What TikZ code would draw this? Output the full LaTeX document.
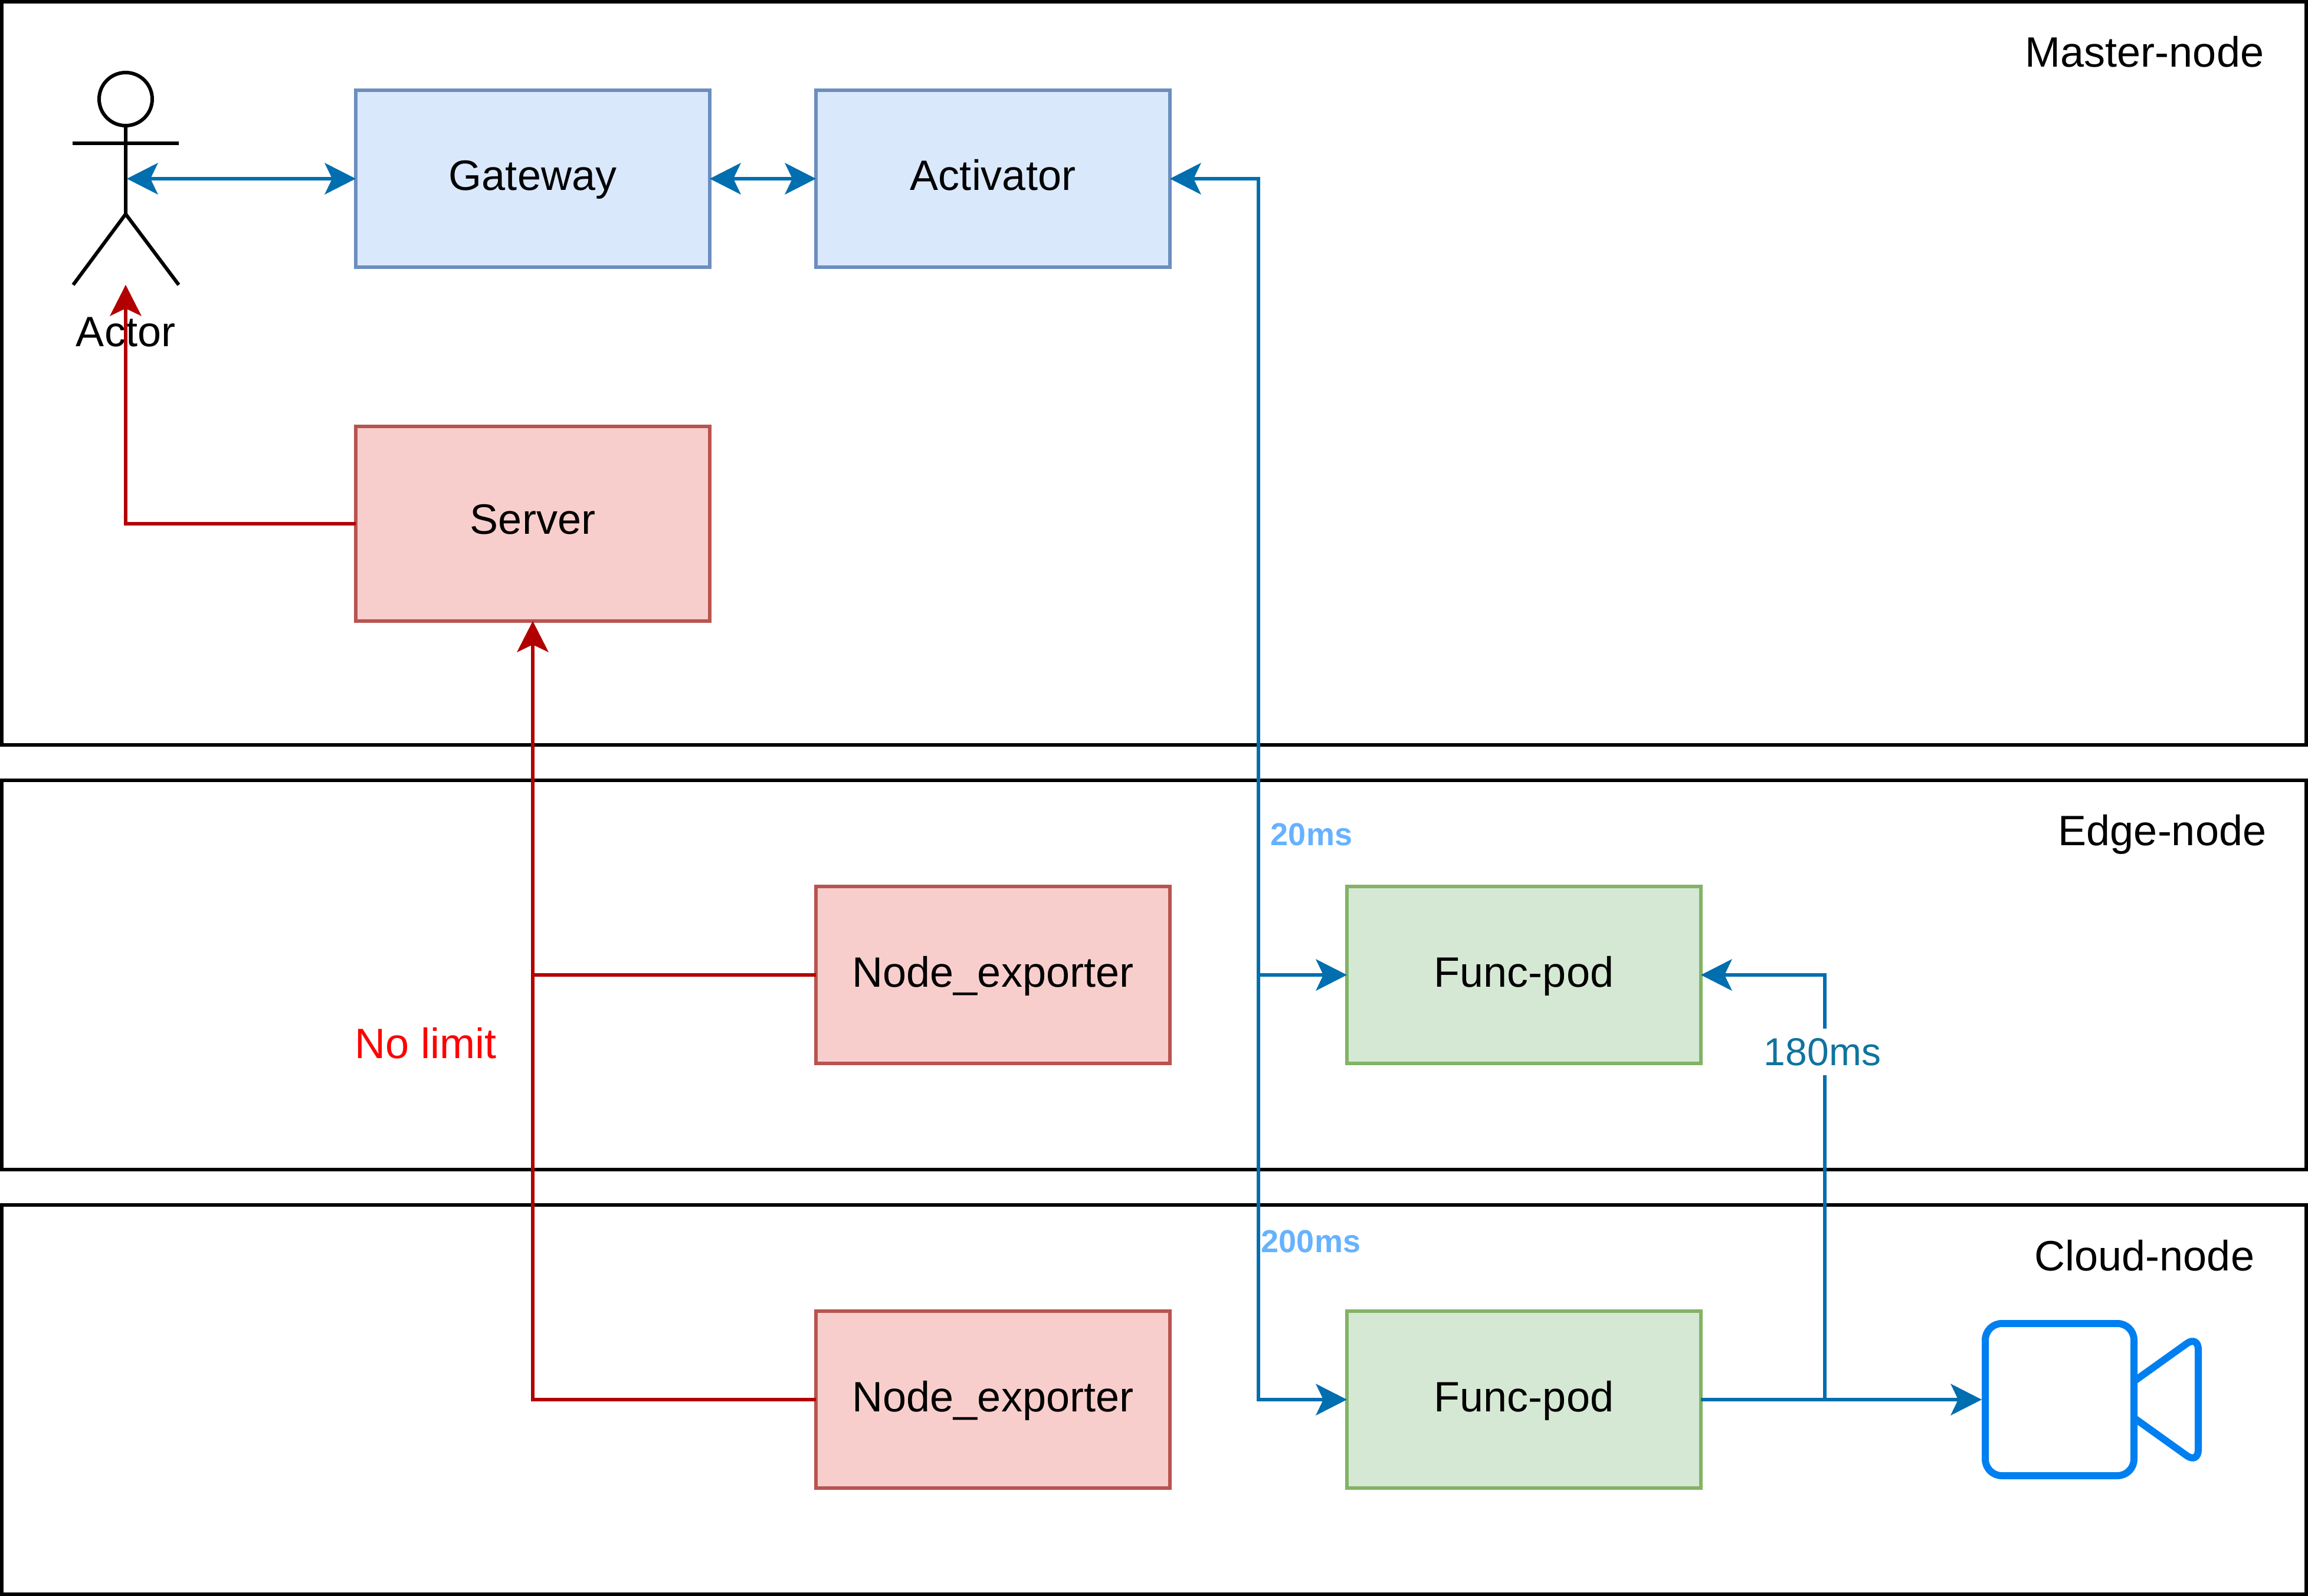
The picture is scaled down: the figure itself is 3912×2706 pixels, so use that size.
\documentclass[tikz,border=0pt]{standalone}
\usepackage{fontspec}
\setmainfont{Liberation Sans}
\usetikzlibrary{arrows.meta}

\definecolor{bluefill}{HTML}{DAE8FC}
\definecolor{blueline}{HTML}{6C8EBF}
\definecolor{redfill}{HTML}{F8CECC}
\definecolor{redline}{HTML}{B85450}
\definecolor{greenfill}{HTML}{D5E8D4}
\definecolor{greenline}{HTML}{82B366}
\definecolor{linkblue}{HTML}{006EAF}
\definecolor{linkred}{HTML}{B20000}
\definecolor{labelblue}{HTML}{10739E}
\definecolor{paleblue}{HTML}{66B2FF}
\definecolor{camblue}{HTML}{007FF0}

\tikzset{every picture/.style={line width=1.5pt}}
\tikzset{
  headtip/.tip={Stealth[length=13.25pt,width=13.5pt,inset=3.25pt,line width=0pt]},
  panel/.style={draw,outer sep=0pt,inner sep=0pt,minimum width=976.5pt},
  box/.style={draw,outer sep=0pt,inner sep=0pt,minimum width=150pt,minimum height=75pt,text height=13.5pt,text depth=3.5pt,font=\fontsize{18}{21.6}\selectfont},
  bluebox/.style={box,fill=bluefill,draw=blueline},
  redbox/.style={box,fill=redfill,draw=redline},
  greenbox/.style={box,fill=greenfill,draw=greenline},
  txt/.style={inner sep=0pt,font=\fontsize{18}{21.6}\selectfont},
  smalltxt/.style={inner sep=0pt,font=\fontsize{13.5}{16}\selectfont\bfseries,text=paleblue},
  bluelink/.style={draw=linkblue,-headtip},
  redlink/.style={draw=linkred,-headtip},
  both/.style={draw=linkblue,headtip-headtip}
}

\begin{document}
\begin{tikzpicture}[x=0.25pt,y=0.25pt,yscale=-1,xscale=1]
\useasboundingbox (0,0) rectangle (3912,2706);

%Shape: Panels
\draw (1956,633) node [panel,minimum height=315pt] (masterpanel) {};
\draw (1956,1653) node [panel,minimum height=165pt] (edgepanel) {};
\draw (1956,2373) node [panel,minimum height=165pt] (cloudpanel) {};

% Text Node
\draw (3635,114) node [txt,anchor=base] (masterlabel) {Master-node};
\draw (3665,1434) node [txt,anchor=base] (edgelabel) {Edge-node};
\draw (3635,2154) node [txt,anchor=base] (cloudlabel) {Cloud-node};
\draw (213,588) node [txt,anchor=base] (actorlabel) {Actor};

%Shape: Actor
\draw (213,168) circle [radius=45];
\draw (213,213) -- (213,363) (123,243) -- (303,243) (124,483) -- (213,363) -- (303,483);
\coordinate (actorbody) at (215,303);
\coordinate (actorfeet) at (213,483);

%Shape: Boxes
\draw (903,303) node [bluebox] (gateway) {Gateway};
\draw (1683,303) node [bluebox] (activator) {Activator};
\draw (903,888) node [redbox,minimum height=82.5pt,text height=13pt,text depth=4pt] (server) {Server};
\draw (1683,1653) node [redbox] (exporteredge) {Node\_exporter};
\draw (2583,1653) node [greenbox] (podedge) {Func-pod};
\draw (1683,2373) node [redbox] (exportercloud) {Node\_exporter};
\draw (2583,2373) node [greenbox] (podcloud) {Func-pod};

%Shape: Camera
\draw (3491,2373) node [draw=camblue,line width=3pt,rounded corners=7pt,inner sep=0pt,minimum width=63pt,minimum height=64.5pt] (camera) {};
\draw [draw=camblue,line width=3pt,rounded corners=6pt] (3617,2342) -- (3726,2264) -- (3726,2482) -- (3617,2404);

%Straight Lines
\coordinate (trunk) at (2133,2373);
\coordinate (branch) at (3093,2373);
\draw [both] (actorbody) -- (gateway);
\draw [both] (gateway) -- (activator);
\draw [redlink] (server) -| (actorfeet);
\draw [redlink] (exportercloud) -| (server);
\draw [draw=linkred] (exporteredge) -- (server |- exporteredge);
\draw [both] (activator) -| (trunk) -- (podcloud);
\draw [bluelink] (trunk |- podedge) -- (podedge);
\draw [bluelink] (podcloud) -- (camera);
\draw [bluelink] (branch) |- (podedge);

% Text Node
\draw (2223,1433) node [smalltxt,anchor=base] (edgedelay) {20ms};
\draw (2222,2123) node [smalltxt,anchor=base] (clouddelay) {200ms};
\draw (3089,1806) node [anchor=base,fill=white,inner sep=4pt,font=\fontsize{16.5}{19.8}\selectfont,text=labelblue] (branchdelay) {180ms};
\draw (722,1794) node [txt,anchor=base,text=red] (limitlabel) {No limit};
\end{tikzpicture}
\end{document}
